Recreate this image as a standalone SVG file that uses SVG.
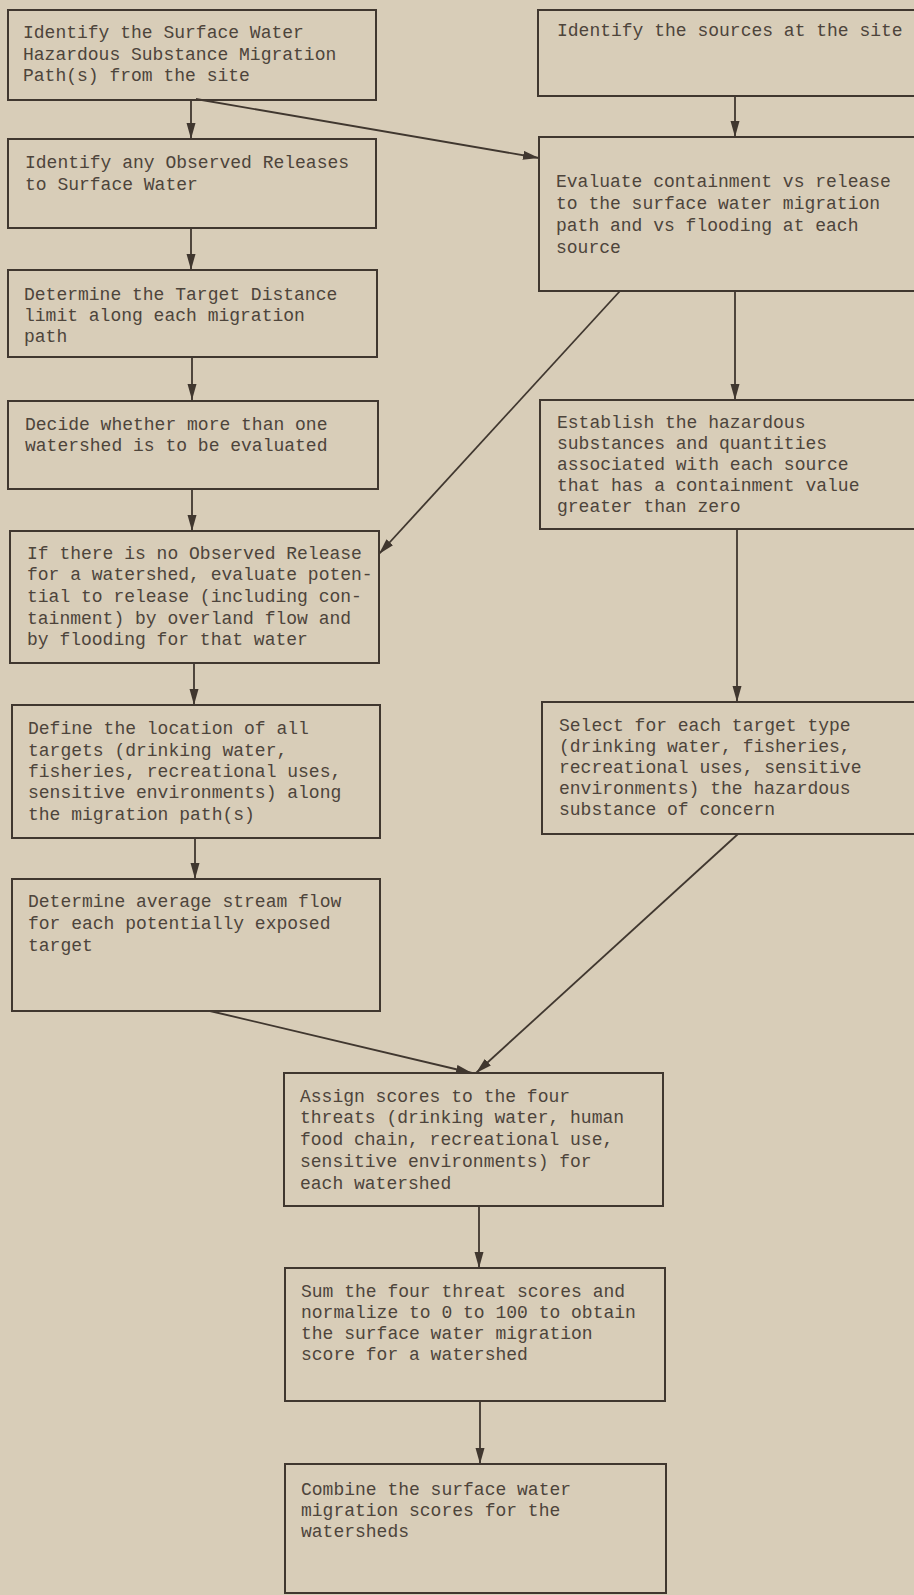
<svg xmlns="http://www.w3.org/2000/svg" width="914" height="1595" viewBox="0 0 914 1595">
<style>
.bx{fill:none;stroke:#40372f;stroke-width:2}
.t{font-family:"Liberation Mono","DejaVu Sans Mono",monospace;font-size:18px;fill:#4d443b}
.c{fill:none;stroke:#40372f;stroke-width:1.8;marker-end:url(#ah)}
</style>
<defs>
<marker id="ah" markerUnits="userSpaceOnUse" markerWidth="18" markerHeight="10" refX="16" refY="4.5" orient="auto">
<path d="M0,0 L16,4.5 L0,9 z" fill="#40372f"/>
</marker>
</defs>
<rect x="0" y="0" width="914" height="1595" fill="#d8cdb8"/>
<g id="connectors">
<line class="c" x1="191" y1="100" x2="191" y2="139"/>
<line class="c" x1="196" y1="99" x2="539" y2="158"/>
<line class="c" x1="735" y1="96" x2="735" y2="137"/>
<line class="c" x1="191" y1="228" x2="191" y2="270"/>
<line class="c" x1="192" y1="357" x2="192" y2="400"/>
<line class="c" x1="192" y1="489" x2="192" y2="531"/>
<line class="c" x1="620" y1="291" x2="379" y2="554"/>
<line class="c" x1="735" y1="291" x2="735" y2="400"/>
<line class="c" x1="737" y1="529" x2="737" y2="702"/>
<line class="c" x1="194" y1="663" x2="194" y2="705"/>
<line class="c" x1="195" y1="839" x2="195" y2="879"/>
<line class="c" x1="210" y1="1011" x2="472" y2="1073"/>
<line class="c" x1="738" y1="834" x2="476" y2="1073"/>
<line class="c" x1="479" y1="1206" x2="479" y2="1268"/>
<line class="c" x1="480" y1="1401" x2="480" y2="1464"/>
</g>
<g id="n1"><rect class="bx" x="8" y="10" width="368" height="90"/>
<text class="t"><tspan x="23" y="38">Identify the Surface Water</tspan><tspan x="23" y="60">Hazardous Substance Migration</tspan><tspan x="23" y="81">Path(s) from the site</tspan></text></g>
<g id="n2"><rect class="bx" x="538" y="10" width="400" height="86"/>
<text class="t"><tspan x="557" y="36">Identify the sources at the site</tspan></text></g>
<g id="n3"><rect class="bx" x="8" y="139" width="368" height="89"/>
<text class="t"><tspan x="25" y="168">Identify any Observed Releases</tspan><tspan x="25" y="190">to Surface Water</tspan></text></g>
<g id="n4"><rect class="bx" x="539" y="137" width="400" height="154"/>
<text class="t"><tspan x="556" y="187">Evaluate containment vs release</tspan><tspan x="556" y="209">to the surface water migration</tspan><tspan x="556" y="231">path and vs flooding at each</tspan><tspan x="556" y="253">source</tspan></text></g>
<g id="n5"><rect class="bx" x="8" y="270" width="369" height="87"/>
<text class="t"><tspan x="24" y="300">Determine the Target Distance</tspan><tspan x="24" y="321">limit along each migration</tspan><tspan x="24" y="342">path</tspan></text></g>
<g id="n6"><rect class="bx" x="8" y="401" width="370" height="88"/>
<text class="t"><tspan x="25" y="430">Decide whether more than one</tspan><tspan x="25" y="451">watershed is to be evaluated</tspan></text></g>
<g id="n7"><rect class="bx" x="540" y="400" width="400" height="129"/>
<text class="t"><tspan x="557" y="428">Establish the hazardous</tspan><tspan x="557" y="449">substances and quantities</tspan><tspan x="557" y="470">associated with each source</tspan><tspan x="557" y="491">that has a containment value</tspan><tspan x="557" y="512">greater than zero</tspan></text></g>
<g id="n8"><rect class="bx" x="10" y="531" width="369" height="132"/>
<text class="t"><tspan x="27" y="559">If there is no Observed Release</tspan><tspan x="27" y="580">for a watershed, evaluate poten-</tspan><tspan x="27" y="602">tial to release (including con-</tspan><tspan x="27" y="624">tainment) by overland flow and</tspan><tspan x="27" y="645">by flooding for that water</tspan></text></g>
<g id="n9"><rect class="bx" x="12" y="705" width="368" height="133"/>
<text class="t"><tspan x="28" y="734">Define the location of all</tspan><tspan x="28" y="756">targets (drinking water,</tspan><tspan x="28" y="777">fisheries, recreational uses,</tspan><tspan x="28" y="798">sensitive environments) along</tspan><tspan x="28" y="820">the migration path(s)</tspan></text></g>
<g id="n10"><rect class="bx" x="542" y="702" width="400" height="132"/>
<text class="t"><tspan x="559" y="731">Select for each target type</tspan><tspan x="559" y="752">(drinking water, fisheries,</tspan><tspan x="559" y="773">recreational uses, sensitive</tspan><tspan x="559" y="794">environments) the hazardous</tspan><tspan x="559" y="815">substance of concern</tspan></text></g>
<g id="n11"><rect class="bx" x="12" y="879" width="368" height="132"/>
<text class="t"><tspan x="28" y="907">Determine average stream flow</tspan><tspan x="28" y="929">for each potentially exposed</tspan><tspan x="28" y="951">target</tspan></text></g>
<g id="n12"><rect class="bx" x="284" y="1073" width="379" height="133"/>
<text class="t"><tspan x="300" y="1102">Assign scores to the four</tspan><tspan x="300" y="1123">threats (drinking water, human</tspan><tspan x="300" y="1145">food chain, recreational use,</tspan><tspan x="300" y="1167">sensitive environments) for</tspan><tspan x="300" y="1189">each watershed</tspan></text></g>
<g id="n13"><rect class="bx" x="285" y="1268" width="380" height="133"/>
<text class="t"><tspan x="301" y="1297">Sum the four threat scores and</tspan><tspan x="301" y="1318">normalize to 0 to 100 to obtain</tspan><tspan x="301" y="1339">the surface water migration</tspan><tspan x="301" y="1360">score for a watershed</tspan></text></g>
<g id="n14"><rect class="bx" x="285" y="1464" width="381" height="129"/>
<text class="t"><tspan x="301" y="1495">Combine the surface water</tspan><tspan x="301" y="1516">migration scores for the</tspan><tspan x="301" y="1537">watersheds</tspan></text></g>
</svg>
